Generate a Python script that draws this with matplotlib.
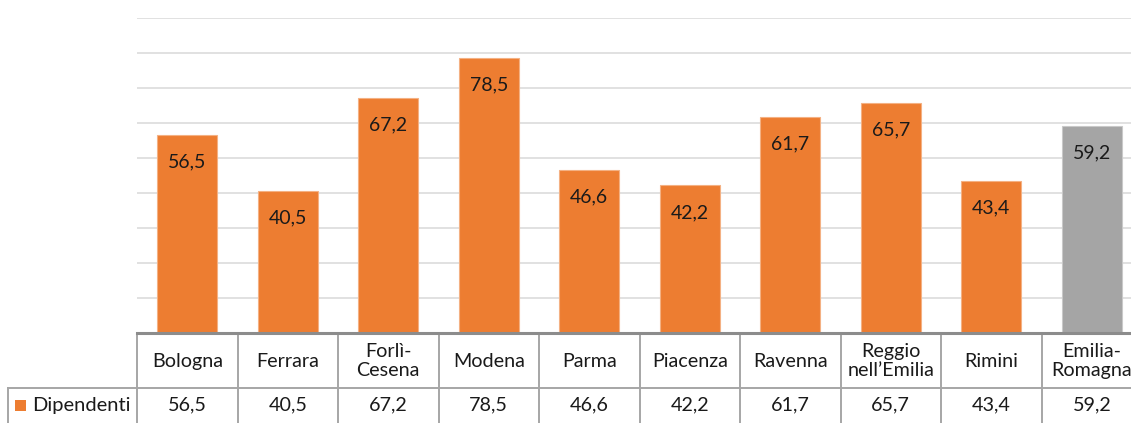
import matplotlib
matplotlib.use("Agg")
import matplotlib.pyplot as plt
from matplotlib.transforms import blended_transform_factory
from matplotlib.patches import Rectangle

plt.rcParams['font.family'] = ['Lato', 'DejaVu Sans']

categories = ["Bologna", "Ferrara", "Forlì-\nCesena", "Modena", "Parma", "Piacenza",
              "Ravenna", "Reggio\nnell’Emilia", "Rimini", "Emilia-\nRomagna"]
values = [56.5, 40.5, 67.2, 78.5, 46.6, 42.2, 61.7, 65.7, 43.4, 59.2]
value_labels = ["56,5", "40,5", "67,2", "78,5", "46,6", "42,2", "61,7", "65,7", "43,4", "59,2"]
series_name = "Dipendenti"

ORANGE = "#ED7D31"
GREY = "#A5A5A5"
colors = [ORANGE] * 9 + [GREY]

W, H = 1131, 423
fig = plt.figure(figsize=(W / 100, H / 100), dpi=100)
ax = fig.add_axes([137 / W, 90 / H, 1005 / W, 315 / H])

x = list(range(len(categories)))
bars = ax.bar(x, values, width=0.6, color=colors, edgecolor=["#F4B183"] * 9 + ["#C9C9C9"],
              linewidth=0.8, zorder=3)
ax.set_xlim(-0.5, len(categories) - 0.5)
ax.set_ylim(0, 90)
ax.set_yticks(range(10, 91, 10))
ax.yaxis.grid(True, color="#D9D9D9", linewidth=1.1, zorder=0)
ax.set_axisbelow(True)
ax.tick_params(left=False, bottom=False, labelleft=False, labelbottom=False)
for s in ax.spines.values():
    s.set_visible(False)
ax.axhline(0, color="#8C8C8C", linewidth=2.2, zorder=4, clip_on=False)

for xi, v, lab in zip(x, values, value_labels):
    ax.annotate(lab, (xi, v), xytext=(0, -19.5), textcoords="offset points",
                ha="center", va="center", fontsize=14, color="#1a1a1a", zorder=5)

# data table
tr = blended_transform_factory(ax.transData, ax.transAxes)
axh = 315.0
y_head_bot = -55 / axh
y_bottom = -95 / axh
line_kw = dict(color="#A6A6A6", linewidth=1.4, clip_on=False, zorder=2)
for k in range(len(categories) + 1):
    xb = k - 0.5
    ax.plot([xb, xb], [0, y_bottom], transform=tr, **line_kw)
ax.plot([-0.5, len(categories) - 0.5], [y_head_bot, y_head_bot], transform=tr, **line_kw)

for xi, cat, lab in zip(x, categories, value_labels):
    ax.text(xi, -28 / axh, cat, transform=tr, ha="center", va="center",
            fontsize=14.2, color="#1a1a1a", linespacing=1.1, clip_on=False)
    ax.text(xi, -72 / axh, lab, transform=tr, ha="center", va="center",
            fontsize=14.2, color="#1a1a1a", clip_on=False)

# row header cell
ft = fig.transFigure
fig.add_artist(plt.Line2D([8 / W, 137 / W], [(H - 388) / H, (H - 388) / H], transform=ft,
                          color="#A6A6A6", linewidth=1.4))
fig.add_artist(plt.Line2D([8 / W, 8 / W], [(H - 388) / H, 0], transform=ft,
                          color="#A6A6A6", linewidth=1.4))
fig.add_artist(Rectangle((15 / W, (H - 411) / H), 11 / W, 11 / H, transform=ft,
                         facecolor=ORANGE, edgecolor="none"))
fig.text(32 / W, (H - 405) / H, series_name, ha="left", va="center", fontsize=14.5,
         color="#1a1a1a")

fig.savefig("out.png", dpi=100)
